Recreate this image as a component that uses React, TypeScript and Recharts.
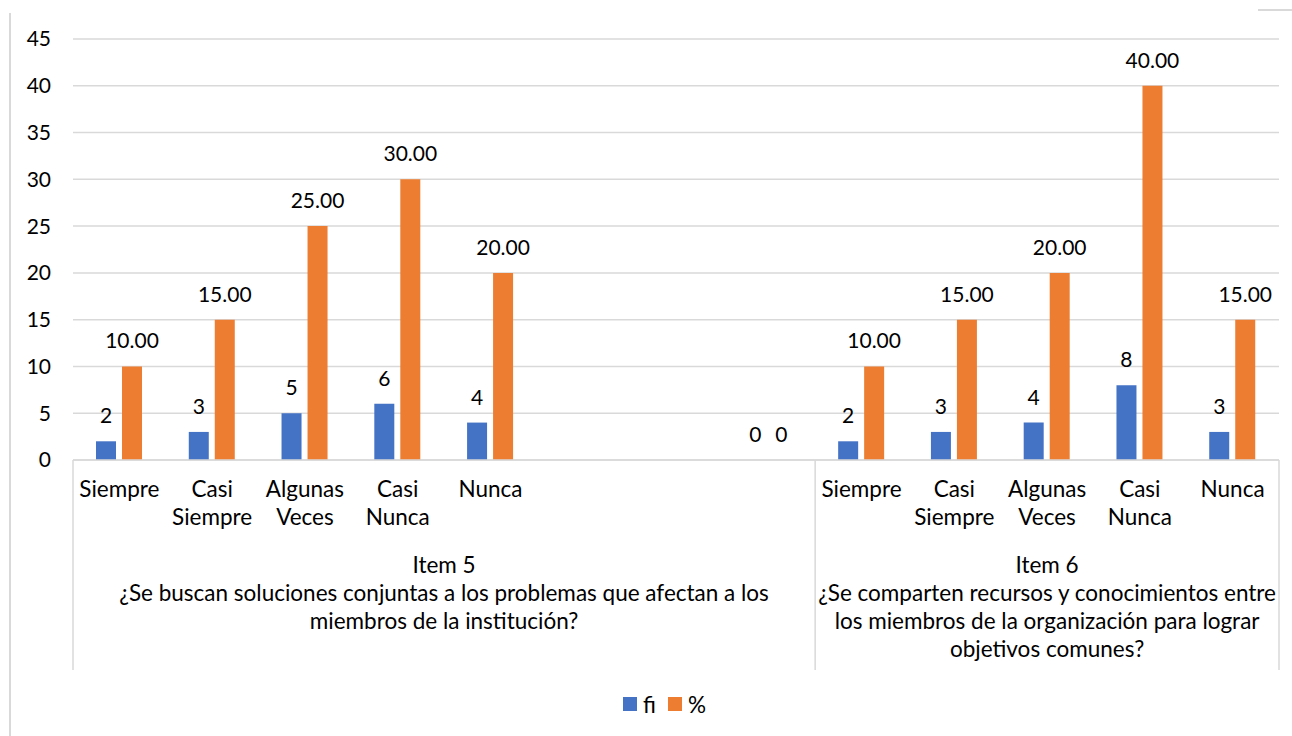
import React from 'react';
import { BarChart, Bar, XAxis, YAxis, CartesianGrid, LabelList, Legend } from 'recharts';

const categories: string[] = [
  'Siempre', 'Casi Siempre', 'Algunas Veces', 'Casi Nunca', 'Nunca',
  '', '', '',
  'Siempre', 'Casi Siempre', 'Algunas Veces', 'Casi Nunca', 'Nunca',
];
const fiValues: (number | null)[] = [2, 3, 5, 6, 4, null, null, 0, 2, 3, 4, 8, 3];
const pctValues: (number | null)[] = [10, 15, 25, 30, 20, null, null, 0, 10, 15, 20, 40, 15];
const yTicks: number[] = [0, 5, 10, 15, 20, 25, 30, 35, 40, 45];
const seriesNames: string[] = ['fi', '%'];

const groupItem5: string[] = [
  'Item 5',
  '¿Se buscan soluciones conjuntas a los problemas que afectan a los',
  'miembros de la institución?',
];
const groupItem6: string[] = [
  'Item 6',
  '¿Se comparten recursos y conocimientos entre',
  'los miembros de la organización para lograr',
  'objetivos comunes?',
];
const groups = [
  { start: 0, span: 8, lines: groupItem5 },
  { start: 8, span: 5, lines: groupItem6 },
];

const data = categories.map((cat, i) => ({ id: i, cat, fi: fiValues[i], pct: pctValues[i] }));

const WIDTH = 1292;
const HEIGHT = 736;
const MARGIN = { top: 39, right: 13, bottom: 17, left: 0 };
const Y_WIDTH = 73;
const GRID = '#D9D9D9';
const BLUE = '#4472C4';
const ORANGE = '#ED7D31';
const NUM_FONT = 21;
const TEXT_FONT = 22.5;
const LINE_H = 28;
const LABEL_GAP = 18;

function CategoryTick(props: any) {
  const { x, y, payload } = props;
  const i = Number(payload.value);
  const fallbackBw = (WIDTH - MARGIN.left - MARGIN.right - Y_WIDTH) / categories.length;
  const bw = payload && typeof payload.offset === 'number' && payload.offset > 0 ? payload.offset * 2 : fallbackBw;
  const words = (categories[i] || '').split(' ').filter((w) => w.length > 0);
  const group = groups.find((g) => g.start === i);
  const isLast = i === categories.length - 1;
  const sepLen = 210;
  return (
    <g>
      {words.length > 0 && (
        <text x={x} y={y + 37} textAnchor="middle" fontSize={TEXT_FONT} fill="#000">
          {words.map((w, k) => (
            <tspan key={k} x={x} dy={k === 0 ? 0 : LINE_H}>{w}</tspan>
          ))}
        </text>
      )}
      {group && (
        <g>
          <line x1={x - bw / 2} x2={x - bw / 2} y1={y} y2={y + sepLen} stroke={GRID} strokeWidth={1.5} />
          <text x={x - bw / 2 + (group.span * bw) / 2} y={y + 113} textAnchor="middle" fontSize={TEXT_FONT} fill="#000">
            {group.lines.map((l, k) => (
              <tspan key={k} x={x - bw / 2 + (group.span * bw) / 2} dy={k === 0 ? 0 : LINE_H}>{l}</tspan>
            ))}
          </text>
        </g>
      )}
      {isLast && (
        <line x1={x + bw / 2} x2={x + bw / 2} y1={y} y2={y + sepLen} stroke={GRID} strokeWidth={1.5} />
      )}
    </g>
  );
}

function LegendContent(props: any) {
  const payload = [...(props.payload || [])].sort(
    (a: any, b: any) => seriesNames.indexOf(String(a.value)) - seriesNames.indexOf(String(b.value))
  );
  return (
    <div style={{ height: 30, display: 'flex', justifyContent: 'center', alignItems: 'center', paddingLeft: 50, fontSize: TEXT_FONT, color: '#000' }}>
      {payload.map((p: any, k: number) => (
        <div key={k} style={{ display: 'flex', alignItems: 'center', marginRight: k === payload.length - 1 ? 0 : 12 }}>
          <div style={{ width: 14, height: 14, background: p.color, marginRight: 6 }} />
          <span>{p.value}</span>
        </div>
      ))}
    </div>
  );
}

const fmtInt = (v: any) => (v === null || v === undefined ? '' : String(v));
const fmtPct = (v: any) => (v === null || v === undefined ? '' : Number(v) === 0 ? '0' : Number(v).toFixed(2));

const makeLabel = (key: string, fmt: (v: any) => string) => (props: any) => {
  const { x, y, width } = props;
  const raw = props.value !== undefined && props.value !== null ? props.value : props.payload ? props.payload[key] : undefined;
  const s = fmt(raw);
  if (s === '' || x === undefined || y === undefined) return null;
  return (
    <text x={Number(x) + Number(width) / 2} y={Number(y) - LABEL_GAP} textAnchor="middle" fontSize={NUM_FONT} fill="#000">
      {s}
    </text>
  );
};
const FiLabel = makeLabel('fi', fmtInt);
const PctLabel = makeLabel('pct', fmtPct);

// keep zero-valued bars present (with a negligible height) so that their labels are drawn
const keepZero = (v: any) => (v === 0 ? 0.001 : 0);

export default function App() {
  return (
    <div style={{ position: 'absolute', left: 0, top: 0, width: WIDTH, height: HEIGHT, background: '#fff', fontFamily: 'Lato, "Noto Sans", sans-serif' }}>
      <div style={{ position: 'absolute', left: 9, top: 13, width: 2, height: HEIGHT - 13, background: GRID }} />
      <div style={{ position: 'absolute', left: 1258, top: 9, width: WIDTH - 1258, height: 2, background: GRID }} />
      <BarChart width={WIDTH} height={HEIGHT} data={data} margin={MARGIN} barSize={20} barGap={6}>
        <CartesianGrid vertical={false} stroke={GRID} strokeWidth={1.5} />
        <XAxis
          dataKey="id"
          type="category"
          height={229}
          tickLine={false}
          tickSize={0}
          tickMargin={0}
          interval={0}
          axisLine={{ stroke: GRID, strokeWidth: 1.5 }}
          tick={CategoryTick}
        />
        <YAxis
          width={Y_WIDTH}
          domain={[0, 45]}
          ticks={yTicks}
          interval={0}
          tickLine={false}
          axisLine={false}
          tickSize={6}
          tickMargin={16}
          tick={{ fontSize: NUM_FONT, fill: '#000' }}
        />
        <Legend verticalAlign="bottom" align="center" content={LegendContent} />
        <Bar dataKey="fi" name={seriesNames[0]} fill={BLUE} minPointSize={keepZero} isAnimationActive={false}>
          <LabelList dataKey="fi" position="top" content={FiLabel} />
        </Bar>
        <Bar dataKey="pct" name={seriesNames[1]} fill={ORANGE} minPointSize={keepZero} isAnimationActive={false}>
          <LabelList dataKey="pct" position="top" content={PctLabel} />
        </Bar>
      </BarChart>
    </div>
  );
}
